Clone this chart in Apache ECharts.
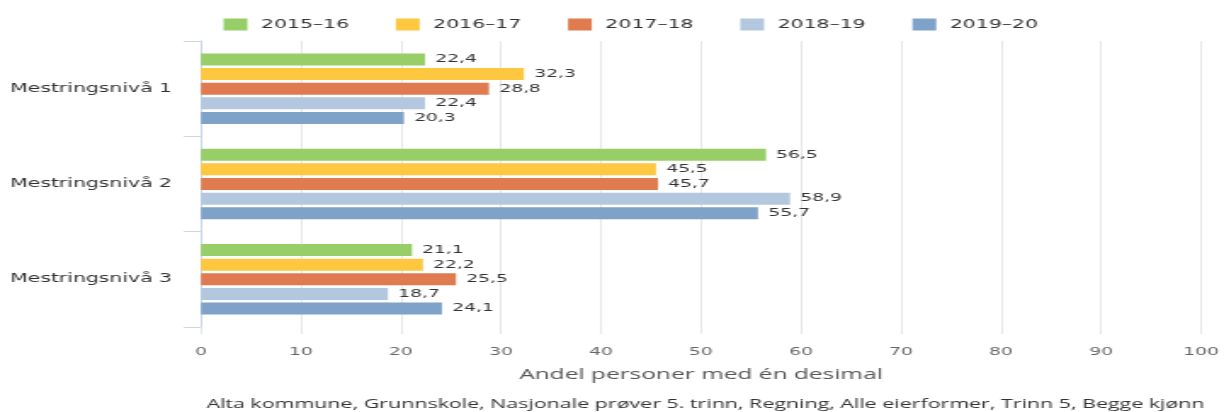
<!DOCTYPE html>
<html>
<head>
<meta charset="utf-8">
<script src="https://cdn.jsdelivr.net/npm/echarts@6/dist/echarts.min.js"></script>
<style>
  html, body { margin: 0; padding: 0; background: #fff; overflow: hidden; }
  #chart { width: 720px; height: 412px; transform: scaleX(1.7); transform-origin: 0 0; }
</style>
</head>
<body>
<div id="chart"></div>
<script>
const categories = ['Mestringsnivå 1', 'Mestringsnivå 2', 'Mestringsnivå 3'];
const seriesNames = ['2015–16', '2016–17', '2017–18', '2018–19', '2019–20'];
const s2015 = [22.4, 56.5, 21.1];
const s2016 = [32.3, 45.5, 22.2];
const s2017 = [28.8, 45.7, 25.5];
const s2018 = [22.4, 58.9, 18.7];
const s2019 = [20.3, 55.7, 24.1];
const xTicks = [0, 10, 20, 30, 40, 50, 60, 70, 80, 90, 100];
const colors = ['#97ce68', '#fdc73f', '#e07b4f', '#b3c8de', '#7fa3c8'];
const axisName = 'Andel personer med én desimal';
const caption = 'Alta kommune, Grunnskole, Nasjonale prøver 5. trinn, Regning, Alle eierformer, Trinn 5, Begge kjønn';

const allValues = [s2015, s2016, s2017, s2018, s2019];

const chart = echarts.init(document.getElementById('chart'), null, { renderer: 'canvas' });

const series = allValues.map((vals, i) => ({
  name: seriesNames[i],
  type: 'bar',
  data: vals,
  barWidth: 12,
  barGap: '22%',
  itemStyle: { color: colors[i] },
  label: {
    show: true,
    position: 'right',
    distance: 6,
    fontFamily: 'DejaVu Sans',
    fontSize: 11,
    color: '#333',
    formatter: p => p.value.toFixed(1).replace('.', ',')
  },
  emphasis: { disabled: true }
}));

chart.setOption({
  animation: false,
  color: colors,
  legend: {
    data: seriesNames,
    left: 131.5,
    top: 18.5,
    padding: 0,
    itemWidth: 14,
    itemHeight: 12,
    itemGap: 27.5,
    icon: 'rect',
    textStyle: { fontFamily: 'DejaVu Sans', fontSize: 12, color: '#333', padding: [0, 0, 0, 3] }
  },
  grid: { left: 118.2, right: 11.2, top: 41, bottom: 85, containLabel: false },
  xAxis: {
    type: 'value',
    min: xTicks[0],
    max: xTicks[xTicks.length - 1],
    interval: xTicks[1] - xTicks[0],
    axisLine: { show: false },
    axisTick: { show: true, length: 7, lineStyle: { color: '#e6e6e6' } },
    splitLine: { show: true, lineStyle: { color: '#e6e6e6', width: 1 } },
    axisLabel: {
      margin: 20,
      fontFamily: 'DejaVu Sans',
      fontSize: 11,
      color: '#666',
      formatter: v => String(v)
    },
    name: axisName,
    nameLocation: 'middle',
    nameGap: 41,
    nameTextStyle: { fontFamily: 'Open Sans', fontSize: 14.4, color: '#555' }
  },
  yAxis: {
    type: 'category',
    data: categories,
    inverse: true,
    axisLine: { show: true, lineStyle: { color: '#ccd6eb' } },
    axisTick: { show: true, length: 10, lineStyle: { color: '#ccd6eb' } },
    axisLabel: {
      margin: 17,
      fontFamily: 'DejaVu Sans',
      fontSize: 12,
      color: '#333'
    },
    splitLine: { show: false }
  },
  graphic: [{
    type: 'text',
    x: 415,
    y: 404,
    style: {
      text: caption,
      textAlign: 'center',
      textVerticalAlign: 'middle',
      fontFamily: 'Open Sans',
      fontSize: 12.6,
      fill: '#333'
    }
  }],
  series: series
});
</script>
</body>
</html>
